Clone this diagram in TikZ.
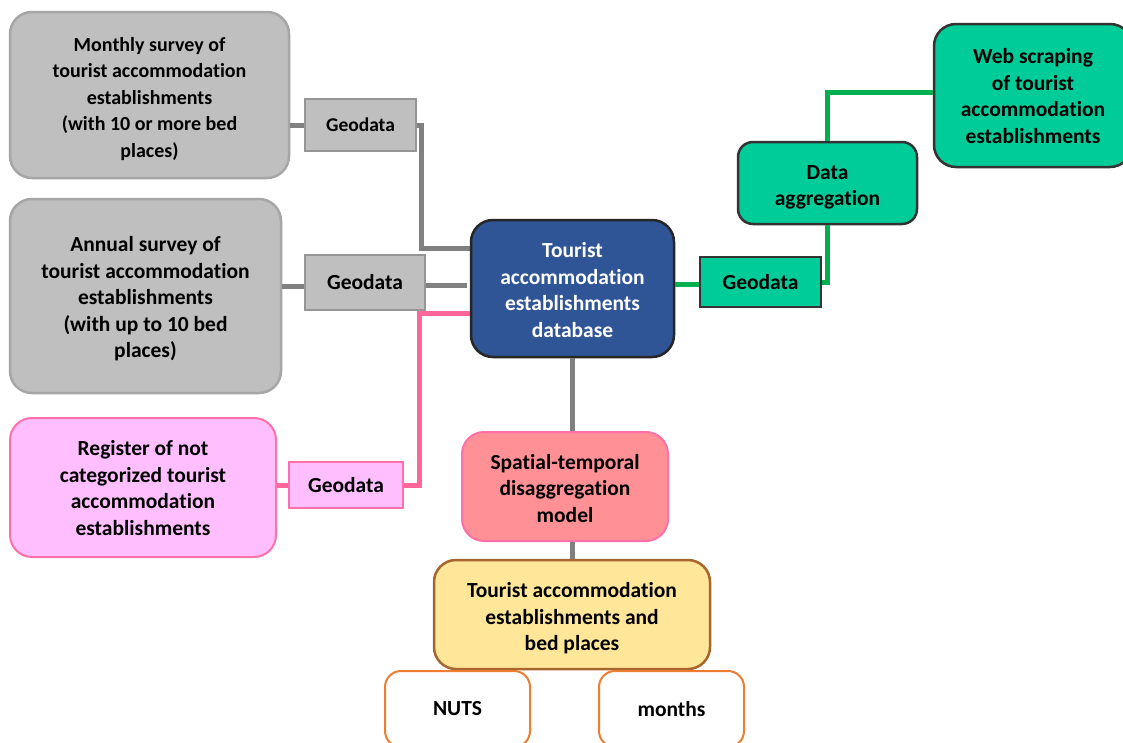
\documentclass[tikz,border=0pt]{standalone}
\usepackage{fontspec}
\setmainfont{Carlito}[RawFeature={-liga;-clig;-dlig;-calt}]
\newcommand\fsz[1]{\fontsize{#1}{26.5}\selectfont\bfseries}
\newcommand\lift[1]{\rule{0pt}{#1pt}}
\definecolor{grayfill}{HTML}{BFBFBF}
\definecolor{grayborder}{HTML}{A6A6A6}
\definecolor{grayline}{HTML}{808080}
\definecolor{bluefill}{HTML}{2F5597}
\definecolor{darkborder}{HTML}{262626}
\definecolor{pinkfill}{HTML}{FFBFFF}
\definecolor{pinkborder}{HTML}{FF6FA8}
\definecolor{pinkline}{HTML}{FF6699}
\definecolor{salmonfill}{HTML}{FF9096}
\definecolor{yellowfill}{HTML}{FFE699}
\definecolor{brownborder}{HTML}{A8662E}
\definecolor{orangeborder}{HTML}{ED7D31}
\definecolor{greenfill}{HTML}{00CC99}
\definecolor{greenline}{HTML}{00B050}
\definecolor{greenborder}{HTML}{333333}
\tikzset{
  box/.style={rectangle, inner sep=0pt, align=center, font=\fsz{21.5}},
  bigbox/.style={box, rounded corners=22pt, line width=2.5pt},
  graybox/.style={bigbox, fill=grayfill, draw=grayborder},
  graygeo/.style={box, fill=grayfill, draw=grayborder!90!black, line width=1.2pt},
  pinkbox/.style={bigbox, fill=pinkfill, draw=pinkborder, line width=2pt},
  pinkgeo/.style={box, fill=pinkfill, draw=pinkborder, line width=1.2pt},
  greenbox/.style={bigbox, fill=greenfill, draw=greenborder},
  greengeo/.style={box, fill=greenfill, draw=greenborder, line width=1.2pt},
  dbbox/.style={bigbox, fill=bluefill, draw=darkborder, text=white},
  spatialbox/.style={bigbox, fill=salmonfill, draw=pinkborder, line width=2pt},
  yellowbox/.style={bigbox, fill=yellowfill, draw=brownborder},
  outbox/.style={bigbox, fill=white, draw=orangeborder, line width=2pt},
  gconn/.style={draw=grayline, line width=5pt},
  pconn/.style={draw=pinkline, line width=5pt},
  grconn/.style={draw=greenline, line width=5pt},
}
\begin{document}
\begin{tikzpicture}[x=1pt,y=-1pt]
\useasboundingbox (0,0) rectangle (1123,742);
\fill[white] (0,0) rectangle (1123,742);

\coordinate (c1) at (360.5,125);
\coordinate (c2) at (365,282.5);
\coordinate (c3) at (346,485);
\coordinate (cdb) at (572.5,288.5);

\node[graybox, minimum width=279pt, minimum height=166pt, font=\fsz{20}] (monthly) at (149.5,95)
  {\lift{21.5}Monthly survey of\\tourist accommodation\\establishments\\(with 10 or more bed\\places)};
\node[graygeo, minimum width=111pt, minimum height=52pt, font=\fsz{19.5}] (geo1) at (c1) {Geodata};
\node[graybox, minimum width=271pt, minimum height=194pt] (annual) at (145.5,296)
  {\lift{20.5}Annual survey of\\tourist accommodation\\establishments\\(with up to 10 bed\\places)};
\node[graygeo, minimum width=120pt, minimum height=55pt] (geo2) at (c2) {Geodata};
\node[pinkbox, minimum width=266pt, minimum height=139pt] (register) at (143,487.5)
  {\lift{16.5}Register of not\\categorized tourist\\accommodation\\establishments};
\node[pinkgeo, minimum width=114pt, minimum height=46pt] (geo3) at (c3) {Geodata};

\draw[gconn] (monthly.east |- geo1.west) -- (geo1.west);
\draw[gconn] (geo1.east) -- ++(5,0) |- ([yshift=40.5pt]cdb -| 471,0);
\draw[gconn] (annual.east |- 0,286) -- (geo2.west |- 0,286);
\draw[gconn] (geo2.east |- 0,285) -- (467,285);
\draw[pconn] (register.east |- geo3.west) -- (geo3.west);
\draw[pconn] (geo3.east) -- ++(16,0) |- ([yshift=-24.5pt]cdb -| 471,0);

\node[dbbox, minimum width=203pt, minimum height=137pt] (db) at (cdb)
  {\lift{18.5}Tourist\\accommodation\\establishments\\database};
\node[greengeo, minimum width=121pt, minimum height=50pt] (geoG) at (760.5,282) {Geodata};
\node[greenbox, rounded corners=15pt, minimum width=179pt, minimum height=82pt] (agg) at (827.5,183)
  {\lift{22.5}Data\\aggregation};
\node[greenbox, minimum width=198pt, minimum height=143pt] (web) at (1033,95.5)
  {\lift{16.5}Web scraping\\of tourist\\accommodation\\establishments};
\node[spatialbox, minimum width=206pt, minimum height=109pt] (spatial) at (565,486.5)
  {\lift{18.5}Spatial-temporal\\disaggregation\\model};
\node[yellowbox, minimum width=276pt, minimum height=109pt] (tourist) at (572,614.5)
  {\lift{22.5}Tourist accommodation\\establishments and\\bed places};
\node[outbox, rounded corners=16pt, minimum width=145pt, minimum height=76pt] (nuts) at (457.5,709) {NUTS};
\node[outbox, rounded corners=16pt, minimum width=145pt, minimum height=76pt] (months) at (671.5,709) {months};

\draw[grconn] (db.east |- 0,284) -- (geoG.west |- 0,284);
\draw[grconn] (geoG.east) -| (agg.south);
\draw[grconn] (agg.north) |- ([yshift=3.5pt]web.west);
\draw[gconn] (db.south) -- (db.south |- spatial.north);
\draw[gconn] (tourist.north |- spatial.south) -- (tourist.north);
\end{tikzpicture}
\end{document}
